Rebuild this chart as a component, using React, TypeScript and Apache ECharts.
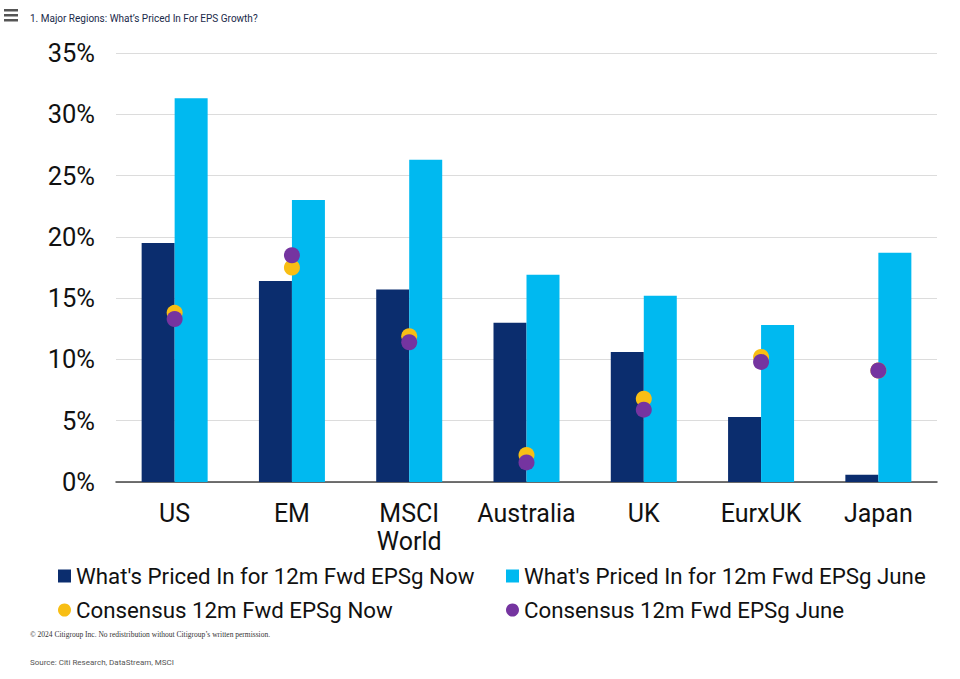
import React, { useEffect, useRef } from "react";
import * as echarts from "echarts";

const categories = ["US", "EM", "MSCI\nWorld", "Australia", "UK", "EurxUK", "Japan"];
const pricedNow = [19.5, 16.4, 15.7, 13.0, 10.6, 5.3, 0.6];
const pricedJune = [31.3, 23.0, 26.3, 16.9, 15.2, 12.8, 18.7];
const consensusNow = [13.8, 17.5, 11.9, 2.2, 6.8, 10.2, 9.1];
const consensusJune = [13.3, 18.5, 11.4, 1.6, 5.9, 9.8, 9.1];
const seriesNames = [
  "What's Priced In for 12m Fwd EPSg Now",
  "What's Priced In for 12m Fwd EPSg June",
  "Consensus 12m Fwd EPSg Now",
  "Consensus 12m Fwd EPSg June",
];

const NAVY = "#0B2D6E";
const CYAN = "#00B9F0";
const YELLOW = "#F8BE14";
const PURPLE = "#7534A0";
const FONT = "Roboto";

export default function App() {
  const ref = useRef<HTMLDivElement>(null);
  useEffect(() => {
    if (!ref.current) return;
    const chart = echarts.init(ref.current, undefined, { renderer: "svg" });
    const legendText = { fontFamily: FONT, fontSize: 22.3, lineHeight: 24, color: "#111" };
    chart.setOption({
      animation: false,
      backgroundColor: "#fff",
      grid: { left: 116, right: 23, top: 53, bottom: 197 },
      title: {
        text: "1. Major Regions: What\u2019s Priced In For EPS Growth?",
        left: 25,
        top: 8,
        textStyle: { fontFamily: FONT, fontSize: 10, fontWeight: "normal", color: "#1a2a4a" },
      },
      graphic: [
        { type: "rect", shape: { x: 4, y: 9, width: 14, height: 2.5 }, style: { fill: "#555" } },
        { type: "rect", shape: { x: 4, y: 14, width: 14, height: 2.5 }, style: { fill: "#555" } },
        { type: "rect", shape: { x: 4, y: 19, width: 14, height: 2.5 }, style: { fill: "#555" } },
        {
          type: "text",
          left: 30,
          top: 630,
          style: {
            text: "\u00A9 2024 Citigroup Inc. No redistribution without Citigroup\u2019s written permission.",
            fontFamily: "Liberation Serif",
            fontSize: 7.5,
            fill: "#333",
          },
        },
        {
          type: "text",
          left: 30,
          top: 658,
          style: {
            text: "Source: Citi Research, DataStream, MSCI",
            fontFamily: FONT,
            fontSize: 8,
            fill: "#555",
          },
        },
      ],
      legend: [
        {
          orient: "vertical",
          left: 53,
          top: 559,
          itemGap: 10,
          itemWidth: 13,
          itemHeight: 13,
          textStyle: legendText,
          data: [
            { name: seriesNames[0], icon: "rect" },
            { name: seriesNames[2], icon: "circle" },
          ],
        },
        {
          orient: "vertical",
          left: 501,
          top: 559,
          itemGap: 10,
          itemWidth: 13,
          itemHeight: 13,
          textStyle: legendText,
          data: [
            { name: seriesNames[1], icon: "rect" },
            { name: seriesNames[3], icon: "circle" },
          ],
        },
      ],
      xAxis: {
        type: "category",
        data: categories,
        axisTick: { show: false },
        axisLine: { lineStyle: { color: "#444", width: 1.5 } },
        axisLabel: {
          fontFamily: FONT,
          fontSize: 25,
          color: "#111",
          margin: 17,
          lineHeight: 28,
          interval: 0,
        },
      },
      yAxis: {
        type: "value",
        min: 0,
        max: 35,
        interval: 5,
        axisLine: { show: false },
        axisTick: { show: false },
        splitLine: { lineStyle: { color: "#dcdcdc", width: 1 } },
        axisLabel: {
          formatter: "{value}%",
          fontFamily: FONT,
          fontSize: 25.5,
          color: "#111",
          margin: 21,
        },
      },
      series: [
        {
          name: seriesNames[0],
          type: "bar",
          data: pricedNow,
          barWidth: 33,
          barGap: "0%",
          itemStyle: { color: NAVY },
        },
        {
          name: seriesNames[1],
          type: "bar",
          data: pricedJune,
          barWidth: 33,
          barGap: "0%",
          itemStyle: { color: CYAN },
        },
        {
          name: seriesNames[2],
          type: "scatter",
          data: consensusNow,
          symbolSize: 16,
          itemStyle: { color: YELLOW, opacity: 1 },
          z: 3,
        },
        {
          name: seriesNames[3],
          type: "scatter",
          data: consensusJune,
          symbolSize: 16,
          itemStyle: { color: PURPLE, opacity: 1 },
          z: 4,
        },
      ],
    });
    return () => chart.dispose();
  }, []);
  return (
    <div
      ref={ref}
      style={{ position: "fixed", left: 0, top: 0, width: 960, height: 679, background: "#fff" }}
    />
  );
}
